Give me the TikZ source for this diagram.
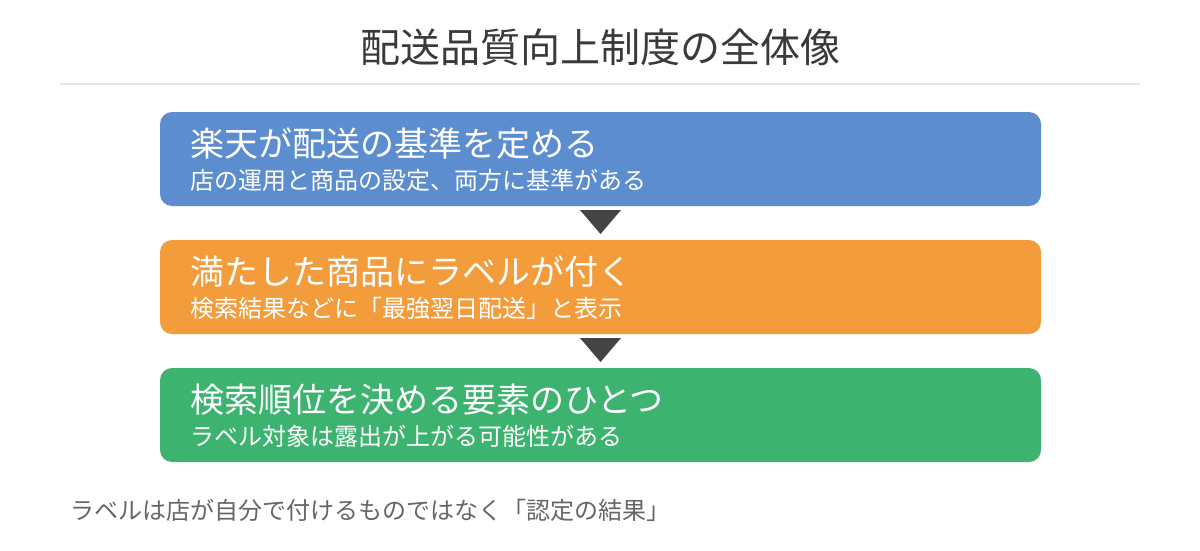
\documentclass[tikz,border=0pt]{standalone}
\usepackage{fontspec}
\setmainfont{Noto Sans CJK JP}
\begin{document}
\begin{tikzpicture}[x=1pt,y=-1pt,
  box/.style={rounded corners=12pt, draw=none},
  head/.style={anchor=west, text=white, inner sep=0pt, font=\fontsize{34}{40}\selectfont},
  sub/.style={anchor=west, text=white, inner sep=0pt, font=\fontsize{24}{28}\selectfont},
  tri/.style={fill=arrowgray, draw=none}]
\definecolor{bluebox}{RGB}{92,141,207}
\definecolor{orangebox}{RGB}{243,156,60}
\definecolor{greenbox}{RGB}{61,179,112}
\definecolor{arrowgray}{RGB}{68,68,68}
\definecolor{titlegray}{RGB}{58,58,58}
\definecolor{rulegray}{RGB}{230,230,230}
\definecolor{footgray}{RGB}{102,102,102}
\useasboundingbox (0,0) rectangle (1200,550);
\fill[white] (0,0) rectangle (1200,550);
\node[inner sep=0pt, text=titlegray, font=\fontsize{40}{46}\selectfont] (title) at (600,47) {配送品質向上制度の全体像};
\draw[rulegray, line width=2pt] (60,84) coordinate (r1) -- (1140,84) coordinate (r2);
% boxes
\fill[box, bluebox] (160,112) rectangle (1041,206);
\node[head] (h1) at (190,144) {楽天が配送の基準を定める};
\node[sub] (s1) at (190,180) {店の運用と商品の設定、両方に基準がある};
\fill[box, orangebox] (160,240) rectangle (1041,334);
\node[head] (h2) at (190,272) {満たした商品にラベルが付く};
\node[sub] (s2) at (190,308) {検索結果などに「最強翌日配送」と表示};
\fill[box, greenbox] (160,368) rectangle (1041,462);
\node[head] (h3) at (190,400) {検索順位を決める要素のひとつ};
\node[sub] (s3) at (190,436) {ラベル対象は露出が上がる可能性がある};
% triangles
\fill[tri] (580,210) -- (621,210) -- (600.5,234) -- cycle;
\fill[tri] (580,338) -- (621,338) -- (600.5,362) -- cycle;
% footer
\node[anchor=west, inner sep=0pt, text=footgray, font=\fontsize{24}{28}\selectfont] (foot) at (70,510) {ラベルは店が自分で付けるものではなく「認定の結果」};
\end{tikzpicture}
\end{document}
